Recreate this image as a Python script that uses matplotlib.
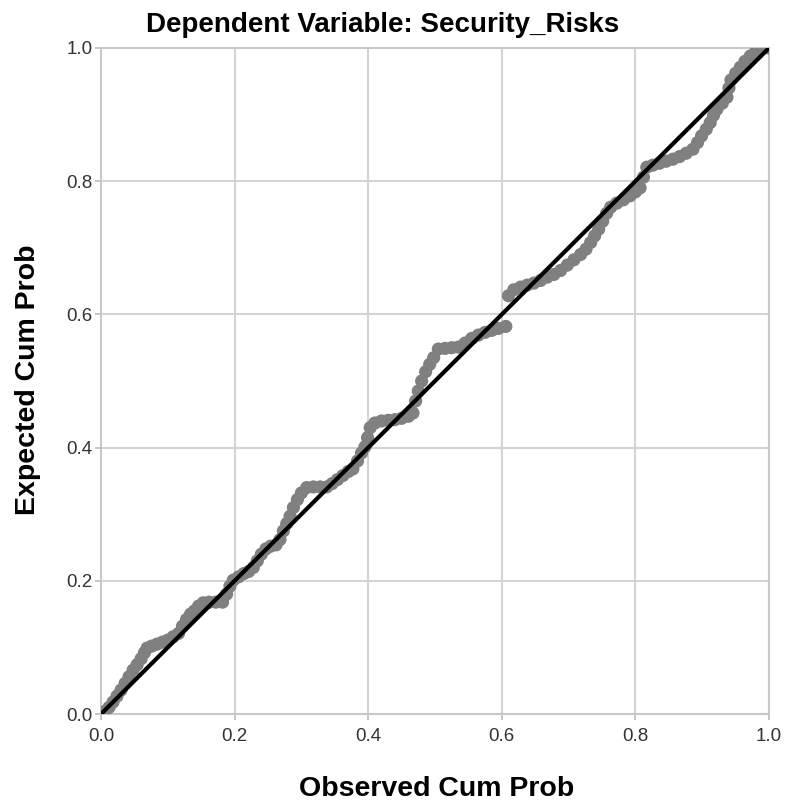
import matplotlib.pyplot as plt

plt.rcParams['font.family'] = ['Liberation Sans', 'DejaVu Sans']

# P-P plot values (observed cum prob, expected cum prob)
observed = [0.000, 0.006, 0.012, 0.018, 0.024, 0.030, 0.036, 0.042, 0.048, 0.054,
            0.060, 0.065, 0.069, 0.076, 0.084, 0.092, 0.100, 0.108, 0.116, 0.122,
            0.128, 0.134, 0.140, 0.146, 0.153, 0.162, 0.172, 0.182, 0.188, 0.193,
            0.198, 0.206, 0.214, 0.221, 0.228, 0.234, 0.240, 0.247, 0.254, 0.262,
            0.268, 0.273, 0.278, 0.283, 0.288, 0.294, 0.300, 0.308, 0.318, 0.328,
            0.338, 0.346, 0.354, 0.362, 0.370, 0.377, 0.384, 0.390, 0.395, 0.399,
            0.403, 0.410, 0.420, 0.430, 0.440, 0.450, 0.460, 0.467, 0.471, 0.475,
            0.480, 0.486, 0.492, 0.498, 0.505, 0.515, 0.525, 0.535, 0.545, 0.555,
            0.565, 0.575, 0.585, 0.595, 0.606, 0.610, 0.618, 0.628, 0.638, 0.648,
            0.658, 0.668, 0.678, 0.688, 0.698, 0.708, 0.718, 0.726, 0.733, 0.739,
            0.745, 0.751, 0.757, 0.763, 0.772, 0.782, 0.792, 0.800, 0.807, 0.812,
            0.817, 0.826, 0.836, 0.846, 0.856, 0.866, 0.876, 0.886, 0.893, 0.899,
            0.906, 0.912, 0.917, 0.922, 0.930, 0.937, 0.940, 0.943, 0.950, 0.957,
            0.964, 0.972, 0.980, 0.990, 1.000]
expected = [0.000, 0.004, 0.010, 0.018, 0.027, 0.036, 0.046, 0.056, 0.066, 0.074,
            0.083, 0.092, 0.099, 0.102, 0.105, 0.108, 0.111, 0.116, 0.121, 0.132,
            0.142, 0.150, 0.155, 0.162, 0.167, 0.168, 0.168, 0.168, 0.180, 0.192,
            0.201, 0.206, 0.211, 0.214, 0.220, 0.230, 0.240, 0.248, 0.252, 0.254,
            0.262, 0.275, 0.286, 0.297, 0.310, 0.322, 0.332, 0.340, 0.341, 0.341,
            0.341, 0.346, 0.352, 0.358, 0.364, 0.368, 0.380, 0.392, 0.401, 0.415,
            0.430, 0.437, 0.440, 0.441, 0.442, 0.444, 0.447, 0.452, 0.470, 0.485,
            0.500, 0.514, 0.525, 0.535, 0.548, 0.549, 0.550, 0.551, 0.557, 0.564,
            0.569, 0.573, 0.576, 0.579, 0.582, 0.628, 0.637, 0.641, 0.644, 0.647,
            0.651, 0.656, 0.660, 0.666, 0.674, 0.682, 0.690, 0.698, 0.708, 0.718,
            0.728, 0.740, 0.752, 0.761, 0.767, 0.772, 0.778, 0.784, 0.790, 0.806,
            0.821, 0.824, 0.827, 0.830, 0.833, 0.837, 0.842, 0.848, 0.858, 0.868,
            0.878, 0.888, 0.899, 0.908, 0.917, 0.926, 0.940, 0.952, 0.962, 0.971,
            0.980, 0.988, 0.994, 0.999, 1.000]

ticks = [0.0, 0.2, 0.4, 0.6, 0.8, 1.0]
tick_labels = ["0.0", "0.2", "0.4", "0.6", "0.8", "1.0"]

fig = plt.figure(figsize=(7.86, 8.08), dpi=100)
ax = fig.add_axes([0.1285, 0.1163, 0.8499, 0.8243])

ax.scatter(observed, expected, s=90, color="#808080", edgecolors="none", zorder=3)
ax.plot([0, 1], [0, 1], color="black", linewidth=3, zorder=4)

ax.set_xlim(0, 1)
ax.set_ylim(0, 1)
ax.set_xticks(ticks)
ax.set_yticks(ticks)
ax.set_xticklabels(tick_labels)
ax.set_yticklabels(tick_labels)
ax.tick_params(labelsize=13.5, colors="#333333", length=4, color="#bbbbbb", width=1.2, pad=2)
ax.tick_params(axis="x", pad=6)
ax.grid(True, color="#d4d4d4", linewidth=1.5)
ax.set_axisbelow(True)
for sp in ax.spines.values():
    sp.set_color("#c8c8c8")
    sp.set_linewidth(1.5)

fig.text(0.487, 0.969, "Dependent Variable: Security_Risks", ha="center", va="center",
         fontsize=20, fontweight="bold")
fig.text(0.555, 0.024, "Observed Cum Prob", ha="center", va="center",
         fontsize=20.5, fontweight="bold")
fig.text(0.036, 0.53, "Expected Cum Prob", ha="center", va="center", rotation=90,
         fontsize=20.5, fontweight="bold")

fig.savefig("out.png", dpi=100)
